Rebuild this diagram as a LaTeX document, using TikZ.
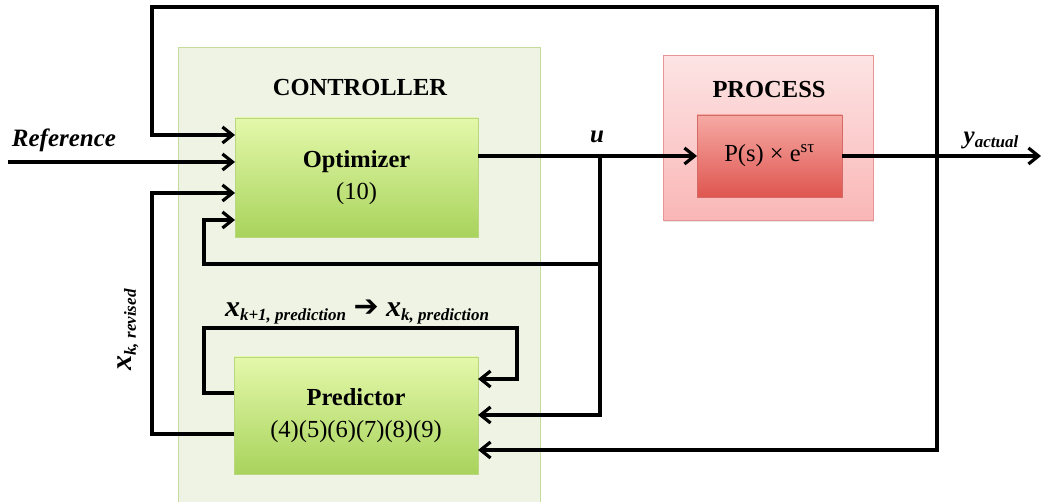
\documentclass[tikz,border=0pt]{standalone}
\usepackage{fontspec}
\setmainfont{Liberation Serif}
\newfontfamily\symfont{DejaVu Sans}
\usetikzlibrary{arrows.meta, shadows}

\definecolor{ctrlFill}{HTML}{EFF3E4}
\definecolor{ctrlLine}{HTML}{C5DB9C}
\definecolor{optTop}{HTML}{E4F8AA}
\definecolor{optBottom}{HTML}{A8D35C}
\definecolor{optLine}{HTML}{B9D77E}
\definecolor{procTop}{HTML}{FDE4E4}
\definecolor{procBottom}{HTML}{FAB6B6}
\definecolor{procLine}{HTML}{E99494}
\definecolor{plantTop}{HTML}{F6A9A4}
\definecolor{plantBottom}{HTML}{DF5650}
\definecolor{plantLine}{HTML}{D36A66}

% bold italic symbol with a bold italic subscript
\newcommand{\bisub}[2]{\textbf{\textit{#1}}\raisebox{-0.35ex}{\fontsize{17}{17}\selectfont\textbf{\textit{#2}}}}

\begin{document}
\begin{tikzpicture}[
        x=1pt, y=-1pt,
        every node/.style={font=\fontsize{24.5}{28}\selectfont, inner sep=0pt, outer sep=0pt},
        wire/.style={draw=black, line width=3.2pt},
        flow/.style={wire, -{Straight Barb[length=10pt, width=16pt]}},
        greenbox/.style={draw=optLine, line width=0.8pt, top color=optTop, bottom color=optBottom,
            align=center, drop shadow={opacity=0.25, shadow xshift=1pt, shadow yshift=-1.5pt}},
        label/.style={font=\fontsize{25}{28}\selectfont\bfseries\itshape}
    ]
    \useasboundingbox (0,0) rectangle (1042,502);

    % Controller and process frames
    \node[draw=ctrlLine, line width=1pt, fill=ctrlFill, anchor=north west,
        minimum width=362pt, minimum height=460pt] (controller) at (178,48) {};
    \node[font=\fontsize{24.5}{28}\selectfont\bfseries] (ctrltitle) at (360,88) {CONTROLLER};
    \node[draw=procLine, line width=1pt, top color=procTop, bottom color=procBottom, anchor=north west,
        minimum width=210pt, minimum height=165pt,
        drop shadow={opacity=0.2, shadow xshift=1pt, shadow yshift=-1.5pt}] (process) at (663,56) {};
    \node[font=\fontsize{24.5}{28}\selectfont\bfseries] (proctitle) at (769,90) {PROCESS};

    % Blocks
    \node[greenbox, anchor=north west, minimum width=243pt, minimum height=119pt] (optimizer) at (235,118)
        {\textbf{Optimizer}\\[4pt](10)};
    \node[greenbox, anchor=north west, minimum width=244pt, minimum height=117pt] (predictor) at (234,357)
        {\textbf{Predictor}\\[4pt](4)(5)(6)(7)(8)(9)};
    \node[draw=plantLine, line width=0.8pt, top color=plantTop, bottom color=plantBottom,
        anchor=north west, minimum width=145pt, minimum height=82pt,
        drop shadow={opacity=0.25, shadow xshift=1pt, shadow yshift=-1.5pt}] (plant) at (697,115)
        {P(s) × e\textsuperscript{sτ}};

    % Junction and bend points
    \coordinate (ujoin) at (600,156);
    \coordinate (tap) at (937,156);
    \coordinate (ytop) at (937,7);
    \coordinate (ybot) at (937,450);
    \coordinate (fbleft) at (152,7);
    \coordinate (revbend) at (152,193);
    \coordinate (refin) at (8,162);
    \coordinate (yout) at (1041,156);

    % Forward path
    \draw[flow] (refin) -- (optimizer.west |- refin);
    \draw[flow] (optimizer.east |- ujoin) -- (plant.west |- ujoin);
    \draw[flow] (plant.east |- tap) -- (yout);

    % Measured output back to optimizer and predictor
    \draw[flow] (tap) -- (ytop) -- (fbleft) |- (optimizer.west |- 0,135);
    \draw[flow] (tap) -- (ybot) -- (predictor.east |- ybot);

    % Control signal back to optimizer and predictor
    \draw[flow] (ujoin) |- (predictor.east |- 0,415);
    \draw[flow] (ujoin |- 0,264) -| (204,220) -- (optimizer.west |- 0,220);

    % Predictor state loops
    \draw[flow] (predictor.west |- 0,393) -| (204,328) -| (517,379) -- (predictor.east |- 0,379);
    \draw[flow] (predictor.west |- 0,434) -| (revbend) -- (optimizer.west |- revbend);

    % Labels
    \node[label] (reflabel) at (64,140) {Reference};
    \node[label] (ulabel) at (597,137) {u};
    \node[label] (ylabel) at (991,140) {\bisub{y}{actual}};
    \node[label, font=\fontsize{30}{30}\selectfont\bfseries\itshape] (predlabel) at (357,312)
        {\bisub{x}{k+1, prediction} {\symfont\fontsize{30}{30}\selectfont ➔} \bisub{x}{k, prediction}};
    \node[label, font=\fontsize{30}{30}\selectfont\bfseries\itshape, rotate=90] (revlabel) at (128,330)
        {\bisub{x}{k, revised}};
\end{tikzpicture}
\end{document}
